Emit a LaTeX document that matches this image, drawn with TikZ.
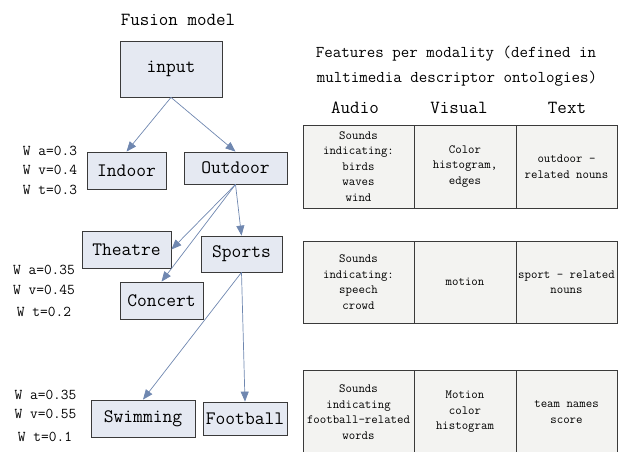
\documentclass[tikz,border=0pt]{standalone}
\usepackage{fontspec}
\usetikzlibrary{arrows.meta}
\definecolor{boxfill}{HTML}{E5E9F2}
\definecolor{cellfill}{HTML}{F3F3F1}
\definecolor{edgegray}{HTML}{3A3A3A}
\definecolor{arrowblue}{HTML}{6F87B0}
\tikzset{
  classbox/.style={draw=edgegray, line width=0.8pt, fill=boxfill, inner sep=0pt,
    font=\ttfamily\fontsize{19}{21}\selectfont},
  weight/.style={font=\ttfamily\fontsize{15}{16}\selectfont, inner sep=0pt, anchor=base},
  heading/.style={font=\ttfamily\fontsize{18.5}{21}\selectfont, inner sep=0pt, anchor=base},
  cell/.style={draw=edgegray, line width=0.8pt, fill=cellfill, inner sep=0pt, align=center,
    font=\ttfamily\fontsize{12.5}{15.5}\selectfont},
  link/.style={draw=arrowblue, line width=0.7pt, -{Triangle[length=10pt,width=8pt]}}
}
\begin{document}
\begin{tikzpicture}[x=1pt,y=-1pt]
\useasboundingbox (0,0) rectangle (621,451);

% fusion model tree
\node[heading] (ftitle) at (178,25) {Fusion model};
\node[classbox, minimum width=102pt, minimum height=56pt] (input) at (171,69) {input};
\node[classbox, minimum width=79pt, minimum height=37pt] (indoor) at (126.5,170.5) {Indoor};
\node[classbox, minimum width=103pt, minimum height=32pt] (outdoor) at (235.5,168) {Outdoor};
\node[classbox, minimum width=89pt, minimum height=37pt] (theatre) at (126.5,249.5) {Theatre};
\node[classbox, minimum width=81pt, minimum height=36pt] (sports) at (241.5,254) {Sports};
\node[classbox, minimum width=83pt, minimum height=37pt] (concert) at (161.5,300.5) {Concert};
\node[classbox, minimum width=104pt, minimum height=37pt] (swimming) at (143,418.5) {Swimming};
\node[classbox, minimum width=84pt, minimum height=33pt] (football) at (245,418.5) {Football};

\draw[link] (input.south) -- (indoor.north);
\draw[link] (input.south) -- (outdoor.north);
\draw[link] (outdoor.south) -- (theatre.east);
\draw[link] (outdoor.south) -- (concert.north);
\draw[link] (outdoor.south) -- (sports.north);
\draw[link] (sports.south) -- (swimming.north);
\draw[link] (sports.south) -- (football.north);

% modality weights
\node[weight] (wa1) at (50,155) {W a=0.3};
\node[weight] (wv1) at (50,174) {W v=0.4};
\node[weight] (wt1) at (50,194) {W t=0.3};
\node[weight] (wa2) at (44,274) {W a=0.35};
\node[weight] (wv2) at (44,294) {W v=0.45};
\node[weight] (wt2) at (44,316) {W t=0.2};
\node[weight] (wa3) at (45.5,399) {W a=0.35};
\node[weight] (wv3) at (45.5,418) {W v=0.55};
\node[weight] (wt3) at (45,441) {W t=0.1};

% features per modality
\node[heading, font=\ttfamily\fontsize{16.5}{20}\selectfont] (feat1) at (456,57) {Features per modality (defined in};
\node[heading, font=\ttfamily\fontsize{16.5}{20}\selectfont] (feat2) at (457,82) {multimedia descriptor ontologies)};
\node[heading] (haudio) at (355,113) {Audio};
\node[heading] (hvisual) at (459,113) {Visual};
\node[heading] (htext) at (567,113) {Text};

\node[cell, minimum width=111pt, minimum height=83pt] (a1) at (358.5,166.5) {Sounds\\indicating:\\birds\\waves\\wind};
\node[cell, minimum width=102pt, minimum height=83pt] (v1) at (465,166.5) {Color\\histogram,\\edges};
\node[cell, minimum width=101pt, minimum height=83pt] (t1) at (566.5,166.5) {outdoor -\\related nouns};

\node[cell, minimum width=111pt, minimum height=82pt] (a2) at (358.5,282) {Sounds\\indicating:\\speech\\crowd};
\node[cell, minimum width=102pt, minimum height=82pt] (v2) at (465,282) {motion};
\node[cell, minimum width=101pt, minimum height=82pt] (t2) at (566.5,282) {sport - related\\nouns};

\node[cell, minimum width=111pt, minimum height=84pt] (a3) at (358.5,412) {Sounds\\indicating\\football-related\\words};
\node[cell, minimum width=102pt, minimum height=84pt] (v3) at (465,412) {Motion\\color\\histogram};
\node[cell, minimum width=101pt, minimum height=84pt] (t3) at (566.5,412) {team names\\score};
\end{tikzpicture}
\end{document}
